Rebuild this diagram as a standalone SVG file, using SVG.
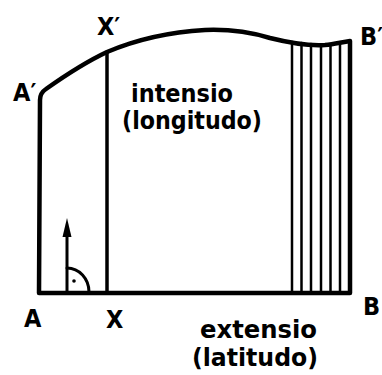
<svg xmlns="http://www.w3.org/2000/svg" width="382" height="375" viewBox="0 0 382 375">
<style>
.lbl{font-family:"DejaVu Sans Condensed","DejaVu Sans",sans-serif;font-weight:bold;font-size:25px;fill:#000}
.word{font-family:"DejaVu Sans Condensed","DejaVu Sans",sans-serif;font-weight:bold;font-size:24px;fill:#000}
.ln{fill:none;stroke:#000;stroke-linecap:round;stroke-linejoin:round}
</style>
<rect width="382" height="375" fill="#fff"/>
<g id="figure">
<path class="ln" stroke-width="4.5" d="M350,41 L350,293 L39,293 L40,100 Q40,93 46,89 C70,72 90,60 107,52 C140,38 170,32 205,30 C230,29 250,32 270,38 C290,43 310,46 325,45 C335,44 342,42 350,41"/>
<line class="ln" stroke-width="3.5" x1="107" y1="52" x2="107" y2="293"/>
</g>
<g id="hatching">
<g class="ln" stroke-width="2.5">
<line x1="292" y1="42" x2="292" y2="292"/>
<line x1="301.5" y1="43" x2="301.5" y2="292"/>
<line x1="311" y1="44" x2="311" y2="292"/>
<line x1="321" y1="45" x2="321" y2="292"/>
<line x1="330.5" y1="45" x2="330.5" y2="292"/>
<line x1="340" y1="43" x2="340" y2="292"/>
</g>
</g>
<g id="normal">
<line class="ln" stroke-width="3" x1="67" y1="292" x2="67" y2="232"/>
<polygon points="67,218 71.5,237 62.5,237" fill="#000"/>
<path class="ln" stroke-width="3" d="M67,268 A22,24 0 0 1 89,292"/>
<circle cx="74" cy="281" r="1.8" fill="#000"/>
</g>
<g id="labels">
<text class="lbl" x="13" y="101">A′</text>
<text class="lbl" x="97" y="35">X′</text>
<text class="lbl" x="360" y="45">B′</text>
<text class="lbl" x="24" y="327">A</text>
<text class="lbl" x="106" y="328">X</text>
<text class="lbl" x="363" y="315">B</text>
<text class="word" x="131" y="102" textLength="102" lengthAdjust="spacingAndGlyphs">intensio</text>
<text class="word" x="122" y="129" textLength="140" lengthAdjust="spacingAndGlyphs">(longitudo)</text>
<text class="word" x="200" y="338" textLength="117" lengthAdjust="spacingAndGlyphs">extensio</text>
<text class="word" x="192" y="366" textLength="126" lengthAdjust="spacingAndGlyphs">(latitudo)</text>
</g>
</svg>
